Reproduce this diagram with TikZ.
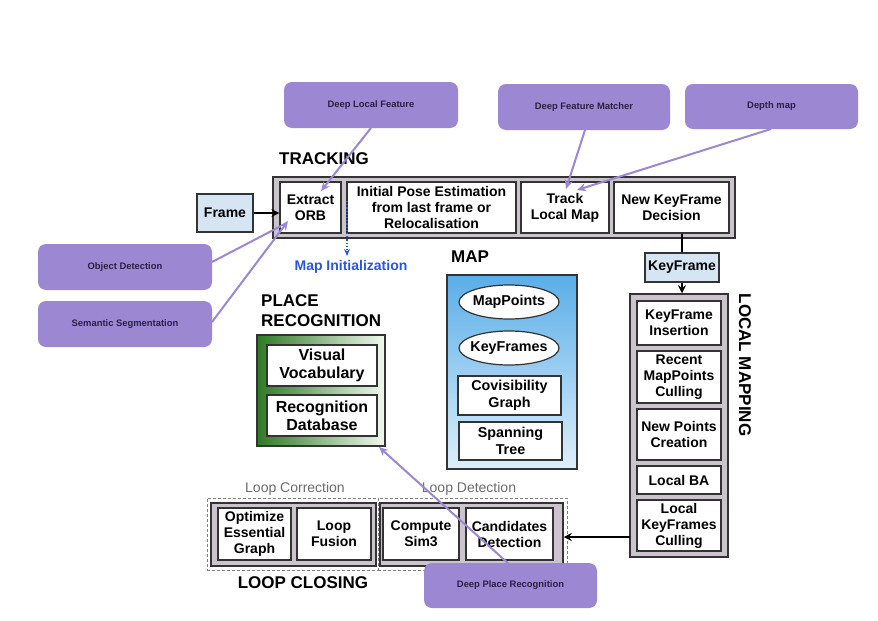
\documentclass[tikz,border=0pt]{standalone}
\usepackage{fontspec}
\setmainfont{Liberation Sans}
\usetikzlibrary{arrows.meta,shapes.geometric}
\definecolor{purp}{HTML}{9B87D2}
\definecolor{purptext}{HTML}{2A2045}
\definecolor{grayfill}{HTML}{CBC4CC}
\definecolor{edge}{HTML}{333333}
\definecolor{lblue}{HTML}{D5E5F4}
\definecolor{mapblueA}{HTML}{5AAEE8}
\definecolor{mapblueB}{HTML}{DDEFFB}
\definecolor{dkgreen}{HTML}{2E7A24}
\definecolor{ltgreen}{HTML}{F2F8F0}
\definecolor{initblue}{HTML}{2B55E0}
\begin{document}
\begin{tikzpicture}[x=1pt,y=-1pt,
  wbox/.style={draw=edge, line width=1.2pt, fill=white, inner sep=0pt, align=center,
    font=\fontsize{14}{16}\selectfont\bfseries},
  mapbox/.style={wbox, font=\fontsize{14.3}{17}\selectfont\bfseries},
  mapell/.style={mapbox, ellipse, inner sep=-6pt},
  bigbox/.style={wbox, font=\fontsize{16}{18}\selectfont\bfseries},
  bluebox/.style={wbox, fill=lblue},
  gbox/.style={draw=edge, line width=1.5pt, fill=grayfill, inner sep=0pt},
  pbox/.style={fill=purp, rounded corners=8pt, inner sep=0pt, align=center,
    font=\fontsize{9.4}{11}\selectfont\bfseries, text=purptext},
  plink/.style={draw=purp, line width=2pt, -{Stealth[length=9pt,width=8pt]}},
  blink/.style={draw=black, line width=2pt, -{Stealth[length=8pt,width=8pt]}},
  heading/.style={font=\fontsize{17}{20}\selectfont\bfseries, inner sep=0pt},
  sublabel/.style={font=\fontsize{14}{16}\selectfont, text=gray!85!black, inner sep=0pt},
  dashbox/.style={draw=gray, densely dashed, line width=1pt, inner sep=0pt}
]
\useasboundingbox[fill=white] (0,0) rectangle (878,621);

% ---------- TRACKING ----------
\node[heading] (trackinglbl) at (324,159) {TRACKING};
\node[gbox, minimum width=462pt, minimum height=61pt] (tracking) at (504,207.5) {};
\node[wbox, minimum width=61pt, minimum height=51pt] (orb) at (310.5,207.5) {Extract\\ORB};
\node[wbox, minimum width=169pt, minimum height=51pt] (pose) at (431.5,207.5) {Initial Pose Estimation\\from last frame or\\Relocalisation};
\node[wbox, minimum width=88pt, minimum height=51pt] (tlm) at (565,207.5) {Track\\Local Map};
\node[wbox, minimum width=115pt, minimum height=51pt] (nkf) at (671.5,207.5) {New KeyFrame\\Decision};
\node[bluebox, minimum width=56pt, minimum height=38pt] (frame) at (225,213) {Frame};
\draw[blink] (frame.east) -- (frame.east -| orb.west);

% map initialization
\coordinate (mistart) at (347,201);
\node[font=\fontsize{14}{16}\selectfont\bfseries, text=initblue, inner sep=0pt] (mapinit) at (351,267) {Map Initialization};
\coordinate (miend) at (347,256);
\draw[initblue, dotted, line width=1.2pt, -{Stealth[length=7pt,width=6pt]}] (mistart) -- (miend);

% ---------- MAP ----------
\node[heading] (maplbl) at (470,257) {MAP};
\node[draw=edge, line width=1.2pt, top color=mapblueA, bottom color=mapblueB, minimum width=130pt, minimum height=194pt, inner sep=0pt] (map) at (512,372) {};
\node[mapell, minimum width=100pt, minimum height=34pt] (mappoints) at (509,302) {MapPoints};
\node[mapell, minimum width=100pt, minimum height=34pt] (keyframes) at (509,348) {KeyFrames};
\node[mapbox, minimum width=103pt, minimum height=39pt] (covis) at (509.5,395.5) {Covisibility\\Graph};
\node[mapbox, minimum width=103pt, minimum height=38pt] (span) at (510.5,441) {Spanning\\Tree};

% ---------- PLACE RECOGNITION ----------
\node[heading, anchor=north west, align=left] (placelbl) at (261,294) {PLACE\\RECOGNITION};
\node[draw=edge, line width=1.2pt, left color=dkgreen, right color=ltgreen, minimum width=128pt, minimum height=111pt, inner sep=0pt] (place) at (321,390.5) {};
\node[bigbox, minimum width=110pt, minimum height=41pt] (vocab) at (322,365.5) {Visual\\Vocabulary};
\node[bigbox, minimum width=110pt, minimum height=41pt] (recdb) at (322,415.5) {Recognition\\Database};

% ---------- LOCAL MAPPING ----------
\node[bluebox, minimum width=74pt, minimum height=29pt] (kf) at (682,267.5) {KeyFrame};
\node[gbox, minimum width=98pt, minimum height=263pt] (lm) at (679,425.5) {};
\node[wbox, minimum width=84pt, minimum height=44pt] (kfins) at (679,323) {KeyFrame\\Insertion};
\node[wbox, minimum width=84pt, minimum height=52pt] (recent) at (679,377) {Recent\\MapPoints\\Culling};
\node[wbox, minimum width=84pt, minimum height=51pt] (newpts) at (679,434.5) {New Points\\Creation};
\node[wbox, minimum width=84pt, minimum height=28pt] (lba) at (679,480) {Local BA};
\node[wbox, minimum width=84pt, minimum height=51pt] (lkfc) at (679,525.5) {Local\\KeyFrames\\Culling};
\node[heading, rotate=-90] (lmlbl) at (745,365) {LOCAL MAPPING};
\draw[black, line width=2pt] (nkf.south -| kf.north) -- (kf.north);
\draw[blink] (kf.south) -- (kf.south |- lm.north);

% ---------- LOOP CLOSING ----------
\node[dashbox, minimum width=171pt, minimum height=72pt] (corrbox) at (292.5,534) {};
\node[dashbox, minimum width=189pt, minimum height=72pt] (detbox) at (472.5,534) {};
\node[gbox, minimum width=165pt, minimum height=63pt] (lcleft) at (293.5,534.5) {};
\node[gbox, minimum width=183pt, minimum height=63pt] (lcright) at (471.5,534.5) {};
\node[wbox, minimum width=73pt, minimum height=52pt] (oeg) at (254.5,534) {Optimize\\Essential\\Graph};
\node[wbox, minimum width=74pt, minimum height=52pt] (fusion) at (334,534) {Loop\\Fusion};
\node[wbox, minimum width=76pt, minimum height=52pt] (sim3) at (421,534) {Compute\\Sim3};
\node[wbox, minimum width=87pt, minimum height=52pt] (cand) at (509.5,534) {Candidates\\Detection};
\node[sublabel] (corrlbl) at (295,489) {Loop Correction};
\node[sublabel] (detlbl) at (469,489) {Loop Detection};
\node[heading] (lclbl) at (303,583) {LOOP CLOSING};
\coordinate (lmout) at (630,537);
\draw[blink] (lmout) -- (lmout -| lcright.east);

% ---------- DEEP MODULES ----------
\node[pbox, minimum width=174pt, minimum height=46pt] (dlf) at (371,105) {Deep Local Feature};
\node[pbox, minimum width=172pt, minimum height=46pt] (dfm) at (584,107) {Deep Feature Matcher};
\node[pbox, minimum width=173pt, minimum height=45pt] (depth) at (771.5,106.5) {Depth map};
\node[pbox, minimum width=174pt, minimum height=46pt] (objdet) at (125,267) {Object Detection};
\node[pbox, minimum width=174pt, minimum height=46pt] (semseg) at (125,324) {Semantic Segmentation};
\node[pbox, minimum width=173pt, minimum height=45pt] (dpr) at (510.5,585.5) {Deep Place Recognition};

\coordinate (dlfout) at (371,128);
\coordinate (orbtop) at (321,191);
\coordinate (dfmout) at (585,130);
\coordinate (tlmA) at (566,189);
\coordinate (depthout) at (771,129);
\coordinate (tlmB) at (577,190);
\coordinate (odout) at (212,262);
\coordinate (orbA) at (281,226);
\coordinate (ssout) at (212,322);
\coordinate (orbB) at (288,221);
\coordinate (dprout) at (510,565);
\coordinate (placein) at (379,447);

\draw[plink] (dlfout) -- (orbtop);
\draw[plink] (dfmout) -- (tlmA);
\draw[plink] (depthout) -- (tlmB);
\draw[draw=purp, line width=2pt] (odout) -- (orbA);
\draw[plink] (ssout) -- (orbB);
\draw[plink] (dprout) -- (placein);
\end{tikzpicture}
\end{document}
